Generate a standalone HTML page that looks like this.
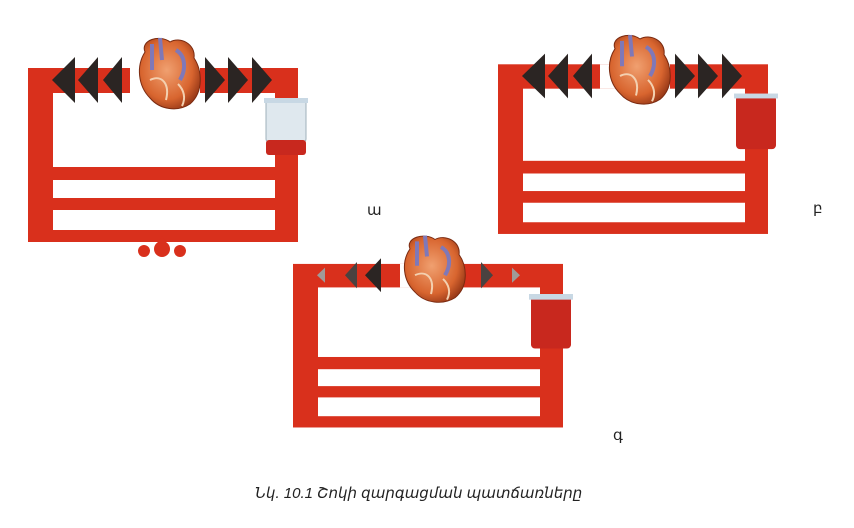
<!DOCTYPE html>
<html><head><meta charset="utf-8"><style>
body{margin:0;background:#fff;width:854px;height:528px;overflow:hidden}
svg{display:block}
</style></head><body>
<svg width="854" height="528" viewBox="0 0 854 528" xmlns="http://www.w3.org/2000/svg">
<defs>
<radialGradient id="hg" cx="0.45" cy="0.45" r="0.6">
<stop offset="0" stop-color="#f0a070"/><stop offset="0.7" stop-color="#d8652f"/><stop offset="1" stop-color="#9a3a18"/>
</radialGradient>
<g id="frame">
<rect x="28" y="68" width="270" height="174" fill="#d9301c"/>
<rect x="53" y="93" width="222" height="74" fill="#fff"/>
<rect x="53" y="180" width="222" height="18" fill="#fff"/>
<rect x="53" y="210" width="222" height="20" fill="#fff"/>
</g>
<g id="heart">
<path d="M145 52 C140 40 160 34 170 42 C180 36 196 44 194 58 C202 70 204 92 190 104 C178 112 160 110 150 98 C138 86 136 66 145 52 Z" fill="url(#hg)" stroke="#7a2a10" stroke-width="1"/>
<path d="M152 44 L152 70 M160 38 L162 60 M176 50 C186 56 186 70 180 80" stroke="#7f78b8" stroke-width="4" fill="none"/>
<path d="M150 80 C162 74 170 84 166 100 M178 84 C184 90 186 98 182 106" stroke="#f3d0b0" stroke-width="2" fill="none"/>
</g>
</defs>

<!-- Panel A -->
<use href="#frame"/>
<g fill="#2b2523">
<polygon points="52,80 75,57 75,103"/><polygon points="78,80 98,57 98,103"/><polygon points="103,80 122,57 122,103"/>
<polygon points="225,80 205,57 205,103"/><polygon points="248,80 228,57 228,103"/><polygon points="272,80 252,57 252,103"/>
</g>
<rect x="130" y="68" width="70" height="25" fill="#fff"/>
<use href="#heart"/>
<rect x="266" y="100" width="40" height="42" rx="3" fill="#dfe8ee" stroke="#9fb0bb"/>
<rect x="266" y="140" width="40" height="15" rx="3" fill="#c8281e"/>
<rect x="264" y="98" width="44" height="5" fill="#c8d8e4"/>
<g fill="#d9301c">
<circle cx="144" cy="251" r="6"/><circle cx="162" cy="249" r="8"/><circle cx="180" cy="251" r="6"/>
<polygon points="162,236 156,245 168,245"/>
</g>

<!-- Panel B -->
<g transform="translate(470,-2) scale(1,0.975)">
<use href="#frame"/>
<g fill="#2b2523">
<polygon points="52,80 75,57 75,103"/><polygon points="78,80 98,57 98,103"/><polygon points="103,80 122,57 122,103"/>
<polygon points="225,80 205,57 205,103"/><polygon points="248,80 228,57 228,103"/><polygon points="272,80 252,57 252,103"/>
</g>
<rect x="130" y="68" width="70" height="25" fill="#fff"/>
<use href="#heart"/>
<rect x="266" y="100" width="40" height="55" rx="4" fill="#c8281e"/>
<rect x="264" y="98" width="44" height="5" fill="#c8d8e4"/>
</g>

<!-- Panel C -->
<g transform="translate(265,200) scale(1,0.94)">
<use href="#frame"/>
<polygon points="52,80 60,72 60,88" fill="#a09a98"/>
<polygon points="80,80 92,66 92,94" fill="#4a4240"/>
<polygon points="100,80 116,62 116,98" fill="#2b2523"/>
<polygon points="200,80 184,62 184,98" fill="#2b2523"/>
<polygon points="228,80 216,66 216,94" fill="#4a4240"/>
<polygon points="255,80 247,72 247,88" fill="#a09a98"/>
<rect x="135" y="68" width="60" height="25" fill="#fff"/>
<use href="#heart"/>
<rect x="266" y="102" width="40" height="56" rx="4" fill="#c8281e"/>
<rect x="264" y="100" width="44" height="6" fill="#c8d8e4"/>
</g>

<g font-family="Liberation Sans, DejaVu Sans, sans-serif" fill="#222">
<text x="367" y="215" font-size="15">ա</text>
<text x="813" y="213" font-size="15">բ</text>
<text x="613" y="440" font-size="15">գ</text>
<text x="255" y="498" font-size="15" font-style="italic">Նկ. 10.1  Շոկի զարգացման պատճառները</text>
</g>
</svg>
</body></html>
